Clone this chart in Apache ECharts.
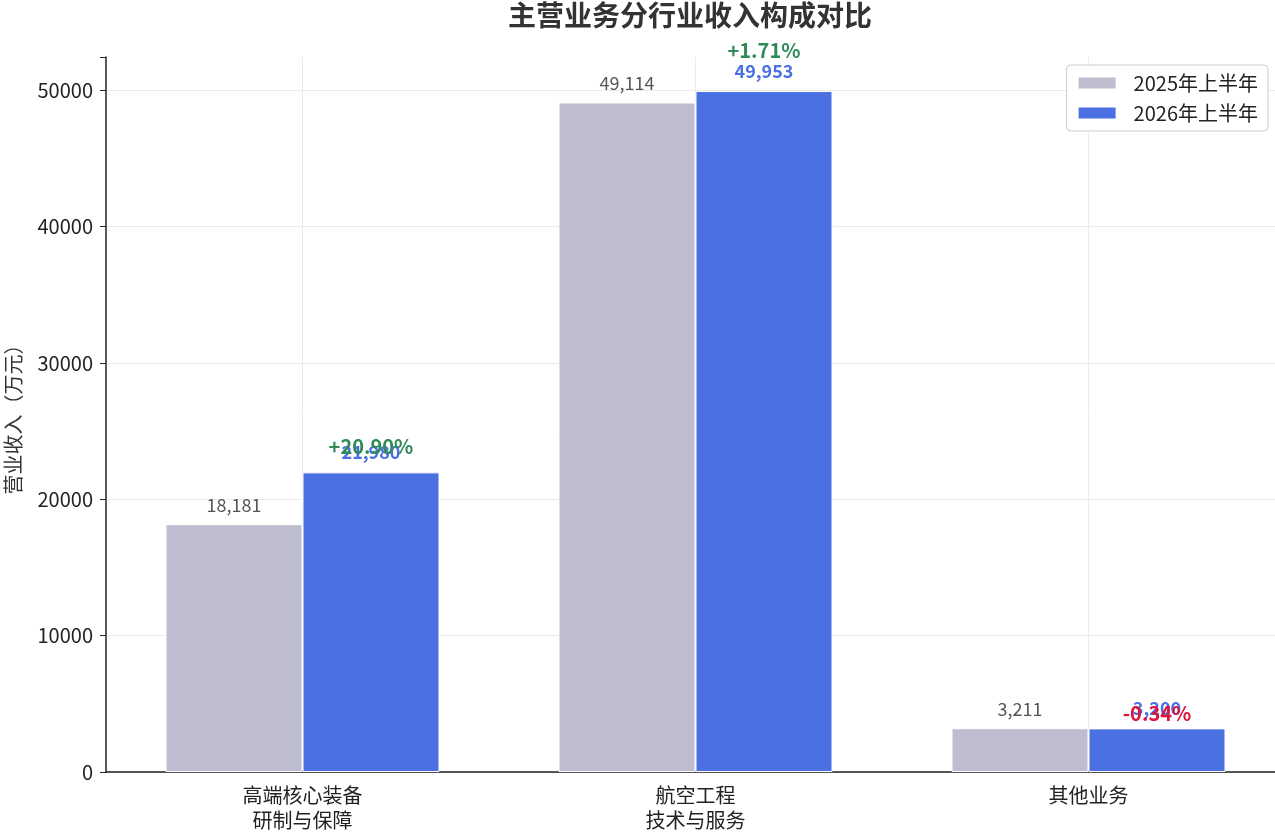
<!DOCTYPE html>
<html>
<head>
<meta charset="utf-8">
<script src="https://cdn.jsdelivr.net/npm/echarts@6/dist/echarts.min.js"></script>
<style>
html,body{margin:0;padding:0;background:#fff;}
#chart{width:1275px;height:839px;}
</style>
</head>
<body>
<div id="chart"></div>
<script>
const categories = ['高端核心装备\n研制与保障', '航空工程\n技术与服务', '其他业务'];
const seriesNames = ['2025年上半年', '2026年上半年'];
const values2025 = [18181, 49114, 3211];
const values2026 = [21980, 49953, 3200];
const yTicks = [0, 10000, 20000, 30000, 40000, 50000];

const FONT = '"Noto Sans CJK SC", "Noto Sans", sans-serif';
const BAR_W = 137;
const yMax = Math.max(...values2026, ...values2025) * 1.05;

const changes = values2026.map((v, i) => (v - values2025[i]) / values2025[i] * 100);
const pctData = values2026.map((v, i) => ({
  value: v * 1.04 + 1000,
  label: {
    formatter: (changes[i] >= 0 ? '+' : '') + changes[i].toFixed(2) + '%',
    color: changes[i] >= 0 ? '#2e8b57' : '#dc143c'
  }
}));

const fmt = n => n.toLocaleString('en-US');

const chart = echarts.init(document.getElementById('chart'));
chart.setOption({
  backgroundColor: '#fff',
  animation: false,
  textStyle: { fontFamily: FONT },
  title: {
    text: '主营业务分行业收入构成对比',
    left: 503, top: 0,
    padding: [1, 5],
    textStyle: { fontSize: 28, fontWeight: 'bold', color: '#333', fontFamily: FONT }
  },
  legend: {
    data: seriesNames,
    right: 7, top: 65,
    orient: 'vertical',
    icon: 'rect',
    itemWidth: 39, itemHeight: 13,
    itemGap: 10,
    padding: [8, 10, 8, 10],
    borderColor: '#cccccc', borderWidth: 1, borderRadius: 4,
    backgroundColor: '#fff',
    textStyle: { fontSize: 20, color: '#222', fontFamily: FONT, padding: [0, 0, 0, 12] }
  },
  grid: { left: 106, width: 1179, top: 57, bottom: 67, containLabel: false, outerBoundsMode: 'none' },
  xAxis: {
    type: 'category',
    data: categories,
    axisLine: { lineStyle: { color: '#222', width: 1.5 } },
    axisTick: { alignWithLabel: true, length: 6, lineStyle: { color: '#222' } },
    axisLabel: { fontSize: 20, color: '#222', lineHeight: 25, margin: 11, fontFamily: FONT },
    splitLine: { show: true, alignWithLabel: true, lineStyle: { color: '#ebebeb', width: 1 } }
  },
  yAxis: {
    type: 'value',
    min: 0, max: yMax, interval: 10000,
    name: '营业收入（万元）',
    nameLocation: 'middle',
    nameGap: 83,
    nameTextStyle: { fontSize: 20, color: '#333', fontFamily: FONT },
    axisLine: { show: true, lineStyle: { color: '#222', width: 1.5 } },
    axisTick: { show: true, length: 6, lineStyle: { color: '#222' } },
    axisLabel: {
      fontSize: 20, color: '#222', margin: 13, fontFamily: FONT,
      formatter: v => (yTicks.indexOf(v) >= 0 ? String(v) : '')
    },
    splitLine: {
      show: true,
      lineStyle: { color: ['#ebebeb', '#ebebeb', '#ebebeb', '#ebebeb', '#ebebeb', '#ebebeb', 'rgba(0,0,0,0)'], width: 1 }
    }
  },
  series: [
    {
      name: seriesNames[0],
      type: 'bar',
      data: values2025,
      barWidth: BAR_W,
      barGap: '0%',
      itemStyle: { color: '#bebdcf', borderColor: '#ffffff', borderWidth: 1 },
      label: {
        show: true, position: 'top', distance: 10,
        fontSize: 18, color: '#555', fontFamily: FONT,
        formatter: p => fmt(p.value)
      }
    },
    {
      name: seriesNames[1],
      type: 'bar',
      data: values2026,
      barWidth: BAR_W,
      itemStyle: { color: '#4a70e2', borderColor: '#ffffff', borderWidth: 1 },
      label: {
        show: true, position: 'top', distance: 11,
        fontSize: 18, fontWeight: 'bold', color: '#4a70e2', fontFamily: FONT,
        formatter: p => fmt(p.value)
      }
    },
    {
      name: 'pct',
      type: 'scatter',
      data: pctData,
      symbolSize: 0,
      clip: false,
      silent: true,
      z: 5,
      itemStyle: { opacity: 1 },
      label: {
        show: true, position: 'inside', offset: [BAR_W / 2, 0],
        fontSize: 20, fontWeight: 'bold', fontFamily: FONT
      }
    }
  ]
});
</script>
</body>
</html>
